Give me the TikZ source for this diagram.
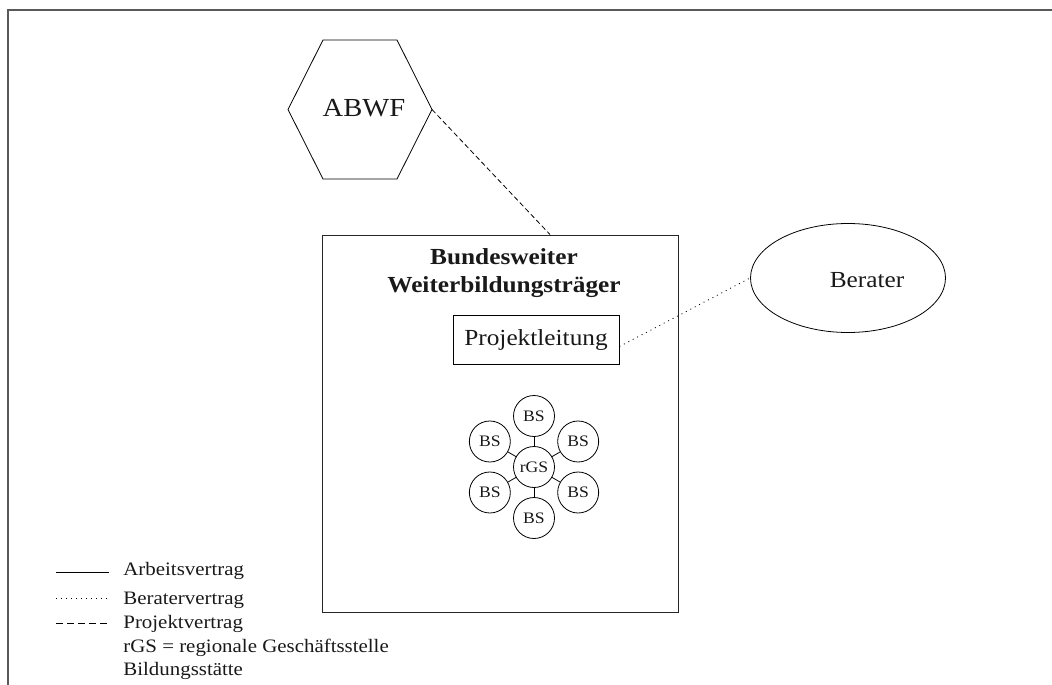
\documentclass[tikz,border=0pt]{standalone}
\usepackage{fontspec}
\setmainfont{Liberation Serif}[FakeStretch=1.1]
\usetikzlibrary{calc,shapes.geometric}
\begin{document}
\begin{tikzpicture}[x=1pt,y=-1pt,
  line width=0.8pt,
  every node/.style={text=black!90},
  frame/.style={draw=black!65, line width=1.6pt},
  boxline/.style={draw=black!85, line width=1pt},
  bs/.style={circle, draw, line width=0.8pt, minimum size=41pt, inner sep=0pt,
    font=\fontsize{16}{18}\selectfont},
  projekt/.style={dash pattern=on 5pt off 3pt},
  berat/.style={dash pattern=on 1pt off 4pt},
  legtext/.style={anchor=base west, inner sep=0pt, font=\fontsize{19}{22}\selectfont}]
\useasboundingbox (0,0) rectangle (1052,685);
\fill[white] (0,0) rectangle (1052,685);

% outer frame (only its top and left sides lie on the page)
\draw[frame] (1052,10) -- (8,10) -- (8,685);

% ABWF hexagon
\node (abwf) at (364,108) {\fontsize{26}{30}\selectfont ABWF};
\coordinate (hc) at (360,109.5);
\coordinate (hexE) at ($(hc)+(72,0)$);
\draw ($(hc)+(-72,0)$) -- ($(hc)+(-37,-69.5)$) -- ($(hc)+(37,-69.5)$) -- (hexE)
  -- ($(hc)+(37,69.5)$) -- ($(hc)+(-37,69.5)$) -- cycle;

% provider box
\node[boxline, rectangle, minimum width=356pt, minimum height=377pt, inner sep=0pt]
  (bwt) at (500,423.5) {};
\node[align=center, font=\fontsize{23}{28}\selectfont\bfseries] (title) at (504,273)
  {Bundesweiter\\Weiterbildungsträger};
\node[draw, line width=0.9pt, minimum width=166pt, minimum height=49pt, inner sep=0pt,
  font=\fontsize{23}{26}\selectfont] (pl) at (536,339.5) {Projektleitung};

% regional office with its training sites
\node[bs] (rgs) at (534,467) {rGS};
\foreach \a/\n in {90/1,30/2,-30/3,-90/4,-150/5,150/6}{
  \node[bs] (bs\n) at ($(rgs)+({51*cos(\a)},{-51*sin(\a)})$) {BS};
  \draw (rgs) -- (bs\n);
}

% consultant
\node[ellipse, draw, minimum width=195pt, minimum height=109pt, inner sep=0pt]
  (berater) at (848,278) {};
\node[font=\fontsize{23}{26}\selectfont] (beraterlbl) at (867,280) {Berater};

% contracts
\coordinate (bwttop) at ($(bwt.north west)!0.64!(bwt.north east)$);
\draw[projekt] (hexE) -- (bwttop);
\draw[berat] ([yshift=-7pt]pl.east) -- (berater.west);

% legend
\coordinate (l1a) at (56,572); \coordinate (l1b) at (109,572);
\coordinate (l2a) at (56,598); \coordinate (l2b) at (109,598);
\coordinate (l3a) at (56,623); \coordinate (l3b) at (109,623);
\draw (l1a) -- (l1b);
\draw[berat] (l2a) -- (l2b);
\draw[dash pattern=on 7pt off 4pt] (l3a) -- (l3b);
\node[legtext] (t1) at (123,575) {Arbeitsvertrag};
\node[legtext] (t2) at (123,604) {Beratervertrag};
\node[legtext] (t3) at (123,628) {Projektvertrag};
\node[legtext] (t4) at (123,652) {rGS = regionale Geschäftsstelle};
\node[legtext] (t5) at (123,675) {Bildungsstätte};
\end{tikzpicture}
\end{document}
